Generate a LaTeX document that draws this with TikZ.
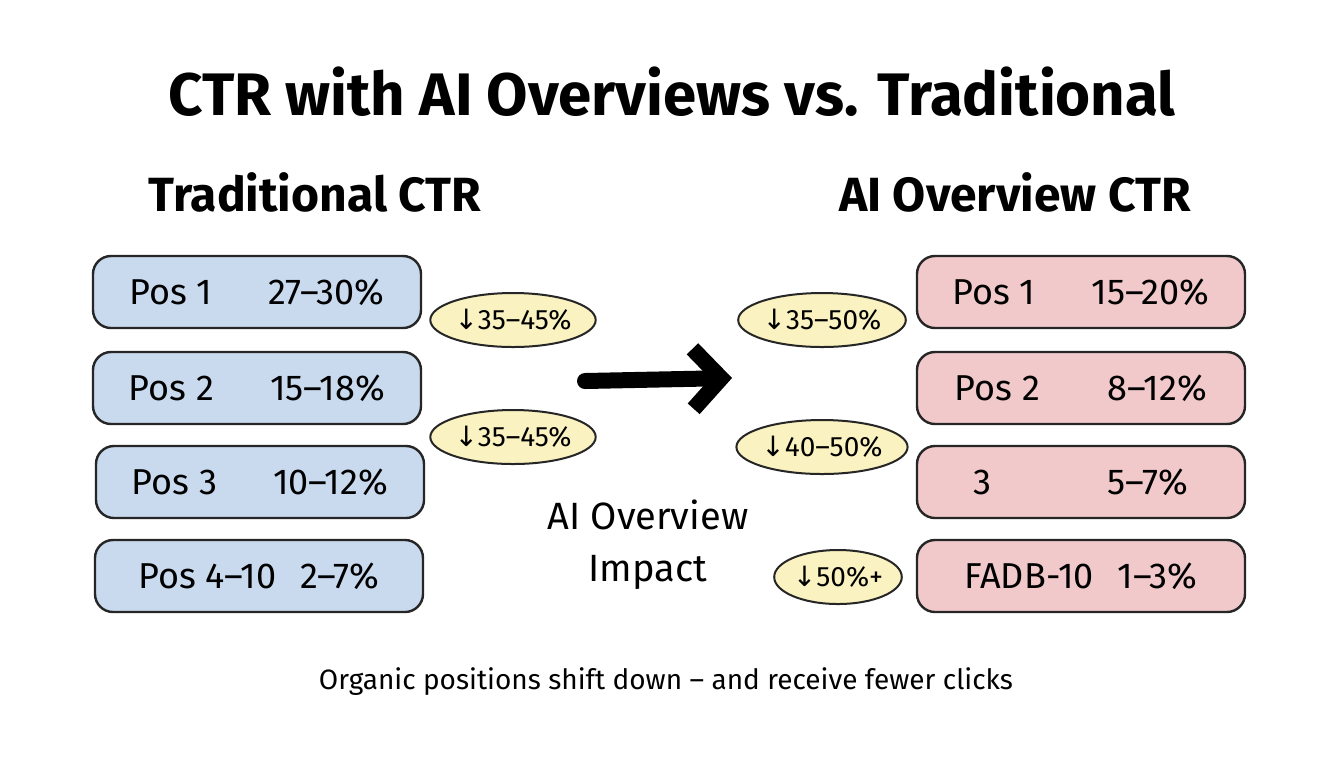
\documentclass[tikz,border=0pt]{standalone}
\usepackage{fontspec}
\setmainfont{Fira Sans}
\newfontfamily\arrowfont{DejaVu Sans}
\usetikzlibrary{arrows.meta,shapes.geometric}
\definecolor{bluebox}{RGB}{201,218,238}
\definecolor{pinkbox}{RGB}{241,201,203}
\definecolor{yel}{RGB}{250,242,192}
\tikzset{
  x=0.5pt,y=-0.5pt,
  tbox/.style={draw=black!85,line width=1.2pt,rounded corners=9pt,minimum width=164pt,minimum height=36pt,font=\fontsize{18}{20}\selectfont},
  blue/.style={tbox,fill=bluebox},
  pink/.style={tbox,fill=pinkbox},
  pill/.style={draw=black!85,line width=1pt,ellipse,fill=yel,minimum width=62pt,minimum height=27pt,inner sep=0pt,font=\fontsize{14}{15}\selectfont},
}
\newcommand{\dn}{{\arrowfont ↓}}
\begin{document}
\begin{tikzpicture}
\useasboundingbox[fill=white] (0,0) rectangle (1344,768);
\node (title) at (672,92) {\fontsize{30}{34}\selectfont\bfseries CTR with AI Overviews vs. Traditional};
\node (lt) at (315,192) {\fontsize{24}{28}\selectfont\bfseries Traditional CTR};
\node (rt) at (1015,192) {\fontsize{24}{28}\selectfont\bfseries AI Overview CTR};
\node[blue] (l1) at (257,292) {Pos 1\hspace{28pt}27--30\%};
\node[blue] (l2) at (257,388) {Pos 2\hspace{28pt}15--18\%};
\node[blue] (l3) at (260,482) {Pos 3\hspace{28pt}10--12\%};
\node[blue] (l4) at (259,576) {Pos 4--10\hspace{12pt}2--7\%};
\node[pink] (r1) at (1081,292) {Pos 1\hspace{28pt}15--20\%};
\node[pink] (r2) at (1081,388) {Pos 2\hspace{34pt}8--12\%};
\node[pink] (r3) at (1081,482) {3\hspace{58pt}5--7\%};
\node[pink] (r4) at (1081,576) {FADB-10\hspace{12pt}1--3\%};
\node[pill] (e1) at (513,320) {\dn35--45\%};
\node[pill] (e2) at (513,437) {\dn35--45\%};
\node[pill] (e3) at (822,320) {\dn35--50\%};
\node[pill] (e4) at (822,447) {\dn40--50\%};
\node[pill,minimum width=58pt] (e5) at (838,577) {\dn50\%+};
\coordinate (a1) at (585,381);
\coordinate (a2) at (732,378);
\draw[line width=8pt,-{Straight Barb[length=14pt,width=30pt,line width=8pt]},line cap=round] (a1) -- (a2);
\node[align=center,font=\fontsize{19}{26}\selectfont] (imp) at (648,545) {AI Overview\\Impact};
\node (foot) at (666,682) {\fontsize{14}{16}\selectfont Organic positions shift down -- and receive fewer clicks};
\end{tikzpicture}
\end{document}
